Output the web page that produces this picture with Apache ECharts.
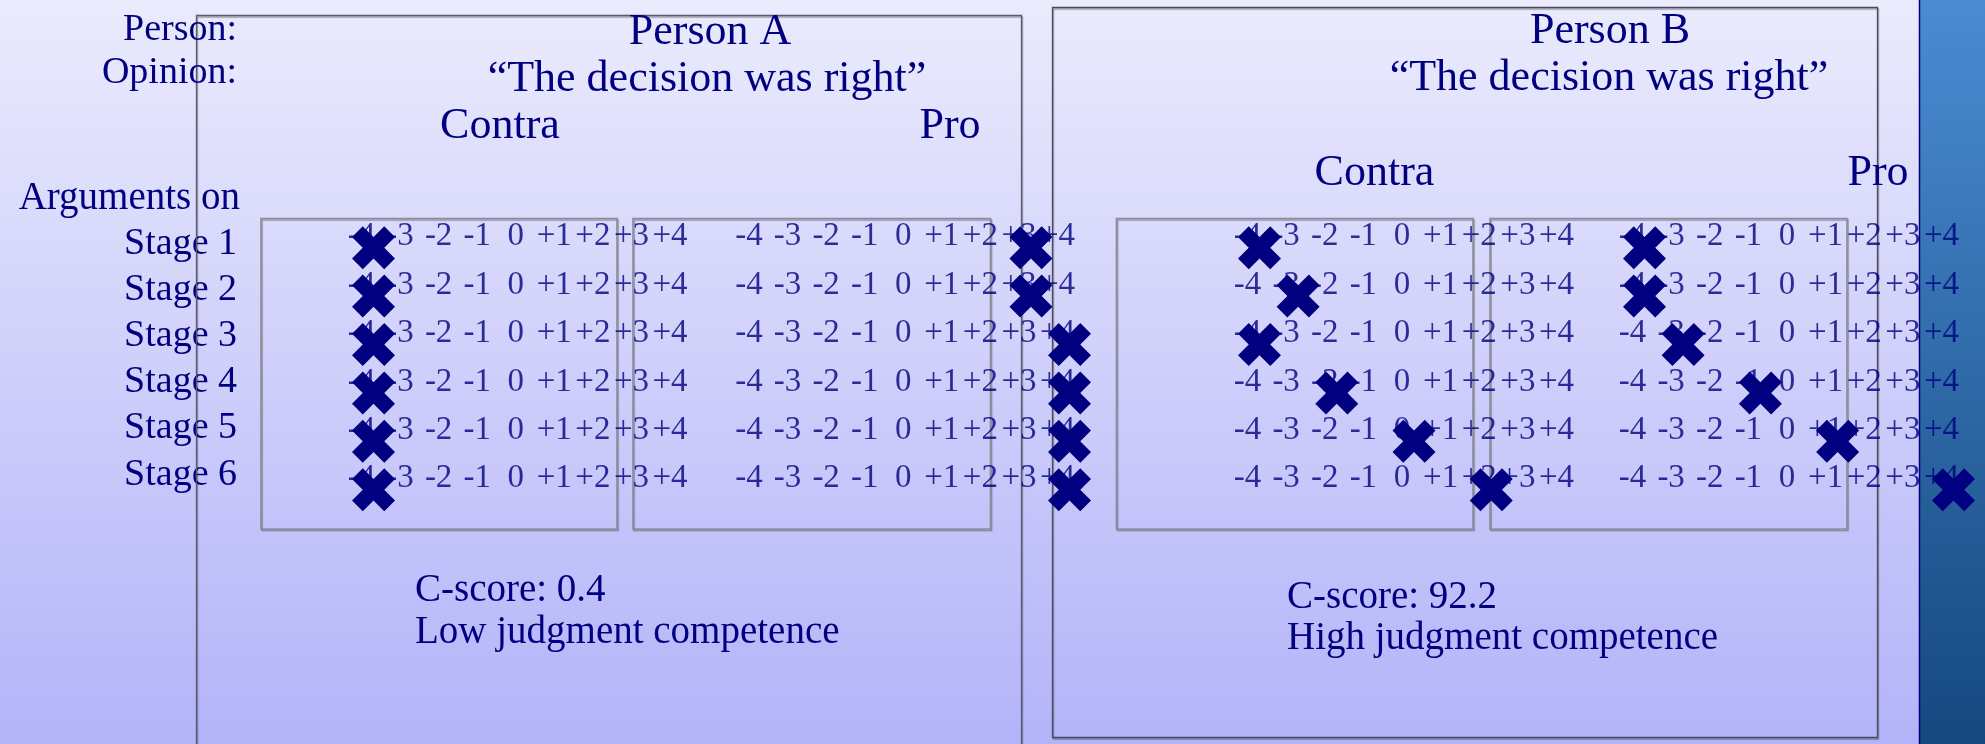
<!DOCTYPE html>
<html>
<head>
<meta charset="utf-8">
<script src="https://cdn.jsdelivr.net/npm/echarts@6/dist/echarts.min.js"></script>
<style>
html,body{margin:0;padding:0;width:1985px;height:744px;overflow:hidden;}
#chart{width:1985px;height:744px;}
</style>
</head>
<body>
<div id="chart"></div>
<script>
// ---- data ----
const stages = ['Stage 1', 'Stage 2', 'Stage 3', 'Stage 4', 'Stage 5', 'Stage 6'];
const scaleValues = [-4, -3, -2, -1, 0, 1, 2, 3, 4];
const scaleLabels = ['-4', '-3', '-2', '-1', '0', '+1', '+2', '+3', '+4'];
const personAContra = [-4, -4, -4, -4, -4, -4];
const personAPro = [3, 3, 4, 4, 4, 4];
const personBContra = [-4, -3, -4, -2, 0, 2];
const personBPro = [-4, -4, -3, -1, 1, 4];
const cScoreA = 0.4;
const cScoreB = 92.2;

// ---- styling ----
const NAVY = '#000080';
const SERIF = '"Liberation Serif", "Times New Roman", serif';
const xPath = 'path://M0,25 L25,0 L50,25 L75,0 L100,25 L75,50 L100,75 L75,100 L50,75 L25,100 L0,75 L25,50 Z';

const panelGrids = [
  { left: 361.5, width: 308.5 },
  { left: 749, width: 308.5 },
  { left: 1247.5, width: 309 },
  { left: 1632.5, width: 309 }
];
const marks = [personAContra, personAPro, personBContra, personBPro];

const grids = panelGrids.map(g => ({
  left: g.left, width: g.width, top: 212.5, height: 290.4,
  outerBoundsMode: 'none', show: false
}));
grids.push({ left: 245, width: 10, top: 221, height: 276.6, outerBoundsMode: 'none', show: false });

const xAxes = grids.map((g, i) => ({ type: 'value', gridIndex: i, min: -4, max: 4, show: false }));
const yAxes = panelGrids.map((g, i) => ({ type: 'category', gridIndex: i, data: stages, inverse: true, show: false }));
yAxes.push({
  type: 'category', gridIndex: 4, data: stages, inverse: true,
  axisLine: { show: false }, axisTick: { show: false }, splitLine: { show: false },
  axisLabel: { color: NAVY, fontSize: 38, fontFamily: SERIF, margin: 8, interval: 0 }
});

const series = [];
panelGrids.forEach((g, i) => {
  const tokenData = [];
  stages.forEach(s => {
    scaleValues.forEach((v, k) => tokenData.push([v, s, scaleLabels[k]]));
  });
  series.push({
    type: 'scatter', xAxisIndex: i, yAxisIndex: i, z: 2, silent: true,
    symbolSize: 1, itemStyle: { color: 'rgba(0,0,0,0)' },
    label: {
      show: true, position: 'inside', formatter: p => p.data[2],
      color: NAVY, fontSize: 33, fontFamily: SERIF
    },
    data: tokenData
  });
  series.push({
    type: 'scatter', xAxisIndex: i, yAxisIndex: i, z: 3, silent: true,
    symbol: xPath, symbolSize: 43, symbolOffset: [12, 11],
    itemStyle: { color: NAVY, opacity: 1 },
    data: marks[i].map((v, r) => [v, stages[r]])
  });
});

function txt(text, x, y, align, size) {
  return {
    type: 'text', z: 5, silent: true,
    style: { text: text, x: x, y: y, align: align, verticalAlign: 'middle',
             fill: NAVY, fontSize: size, fontFamily: SERIF }
  };
}
function box(x, y, w, h, stroke, lw) {
  return {
    type: 'rect', z: 1, silent: true,
    shape: { x: x, y: y, width: w, height: h },
    style: { fill: 'none', stroke: stroke, lineWidth: lw,
             shadowColor: 'rgba(0,0,0,0.35)', shadowOffsetX: 1, shadowOffsetY: 1.5, shadowBlur: 1 }
  };
}

const graphic = [
  { type: 'rect', z: -100, silent: true, shape: { x: 0, y: 0, width: 1985, height: 744 },
    style: { fill: { type: 'linear', x: 0, y: 0, x2: 0, y2: 1,
      colorStops: [{ offset: 0, color: '#EBEBFD' }, { offset: 1, color: '#B3B3F9' }] } } },
  { type: 'rect', z: -90, silent: true, shape: { x: 1919, y: 0, width: 66, height: 744 },
    style: { fill: { type: 'linear', x: 0, y: 0, x2: 0, y2: 1,
      colorStops: [{ offset: 0, color: '#4A8CD2' }, { offset: 1, color: '#15487F' }] } } },
  { type: 'line', z: -89, silent: true, shape: { x1: 1919.5, y1: 0, x2: 1919.5, y2: 744 },
    style: { stroke: NAVY, lineWidth: 1.5 } },
  // person panels
  box(196.5, 15.5, 825, 760, '#5a5a6e', 1.3),
  box(1052.5, 7.5, 825, 730, '#4a4a5a', 1.3),
  // stage boxes
  box(261, 218.5, 356, 310.5, '#8c8c96', 1.6),
  box(633, 218.5, 357.5, 310.5, '#8c8c96', 1.6),
  box(1116.5, 218.5, 356.5, 310.5, '#8c8c96', 1.6),
  box(1490, 218.5, 357, 310.5, '#8c8c96', 1.6),
  // texts
  txt('Person:', 237, 30, 'right', 38),
  txt('Opinion:', 237, 73, 'right', 38),
  txt('Arguments on', 240, 199, 'right', 39),
  txt('Person A', 710, 32, 'center', 44),
  txt('\u201CThe decision was right\u201D', 707, 79, 'center', 44),
  txt('Contra', 500, 126, 'center', 44),
  txt('Pro', 950, 126, 'center', 44),
  txt('Person B', 1610, 31, 'center', 44),
  txt('\u201CThe decision was right\u201D', 1609, 78, 'center', 44),
  txt('Contra', 1374.5, 173, 'center', 44),
  txt('Pro', 1878, 173, 'center', 44),
  txt('C-score: ' + cScoreA, 415, 591, 'left', 39),
  txt('Low judgment competence', 415, 632.5, 'left', 39),
  txt('C-score: ' + cScoreB, 1287, 598, 'left', 39),
  txt('High judgment competence', 1287, 639, 'left', 39)
];

const chart = echarts.init(document.getElementById('chart'), null, { renderer: 'canvas' });
chart.setOption({
  animation: false,
  backgroundColor: '#D0D0FB',
  grid: grids,
  xAxis: xAxes,
  yAxis: yAxes,
  series: series,
  graphic: { elements: graphic }
});
</script>
</body>
</html>
